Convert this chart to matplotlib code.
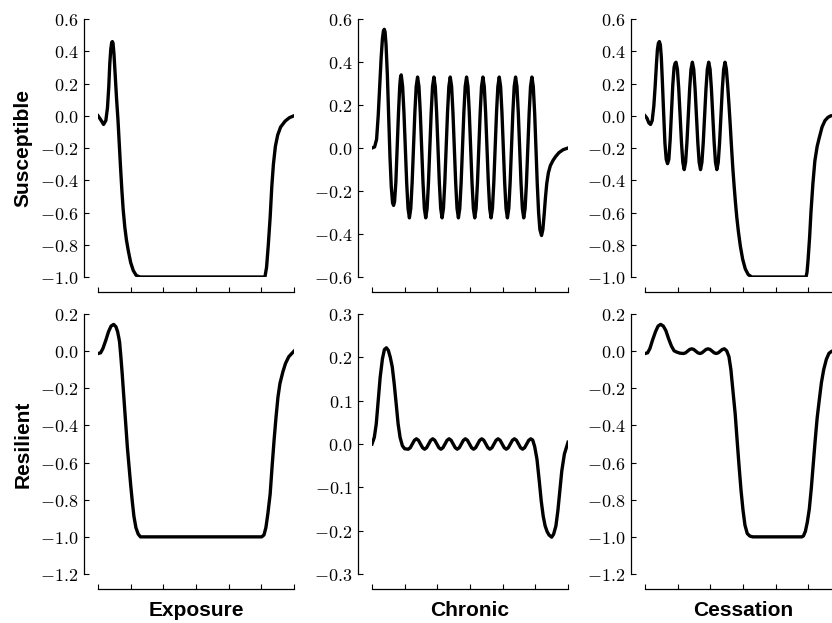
import matplotlib.pyplot as plt
from matplotlib.ticker import FuncFormatter

plt.rcParams['mathtext.fontset'] = 'cm'

W, H = 832, 623

# ---- data (x in tick units 0..6) ----
# susceptible / exposure
s_exp_x = [0, 0.10, 0.17, 0.24, 0.29, 0.33, 0.36, 0.39, 0.42, 0.44, 0.46, 0.49, 0.53, 0.57, 0.61,
           0.65, 0.69, 0.73, 0.77, 0.82, 0.87, 0.93, 1.00, 1.08, 1.17, 1.28, 5.11, 5.16, 5.21, 5.27,
           5.32, 5.37, 5.43, 5.50, 5.59, 5.73, 5.86, 6.0]
s_exp_y = [0, -0.03, -0.054, -0.03, 0.05, 0.18, 0.32, 0.41, 0.455, 0.46, 0.45, 0.38, 0.24, 0.10,
           -0.02, -0.17, -0.32, -0.46, -0.58, -0.69, -0.77, -0.84, -0.91, -0.96, -0.99, -1.0, -1.0,
           -0.94, -0.81, -0.63, -0.44, -0.30, -0.19, -0.12, -0.07, -0.033, -0.012, 0.0]

# susceptible / chronic
s_chr_x = [0, 0.08, 0.14, 0.19, 0.24, 0.28, 0.32, 0.35, 0.376, 0.40, 0.43, 0.47, 0.51, 0.55, 0.59,
           0.63, 0.66, 0.69, 0.73, 0.77, 0.81, 0.85, 0.87, 0.895,
           0.937, 0.978, 1.020, 1.062, 1.103, 1.145, 1.187, 1.228, 1.270, 1.312, 1.353, 1.395,
           1.437, 1.478, 1.520, 1.562, 1.603, 1.645, 1.687, 1.728, 1.770, 1.812, 1.853, 1.895,
           1.937, 1.978, 2.020, 2.062, 2.103, 2.145, 2.187, 2.228, 2.270, 2.312, 2.353, 2.395,
           2.437, 2.478, 2.520, 2.562, 2.603, 2.645, 2.687, 2.728, 2.770, 2.812, 2.853, 2.895,
           2.937, 2.978, 3.020, 3.062, 3.103, 3.145, 3.187, 3.228, 3.270, 3.312, 3.353, 3.395,
           3.437, 3.478, 3.520, 3.562, 3.603, 3.645, 3.687, 3.728, 3.770, 3.812, 3.853, 3.895,
           3.937, 3.978, 4.020, 4.062, 4.103, 4.145, 4.187, 4.228, 4.270, 4.312, 4.353, 4.395,
           4.437, 4.478, 4.520, 4.562, 4.603, 4.645, 4.687, 4.728, 4.770, 4.812, 4.853, 4.895,
           4.937, 4.98, 5.02, 5.06, 5.10, 5.14, 5.19, 5.23, 5.27, 5.31, 5.35, 5.40, 5.46, 5.54,
           5.62, 5.72, 5.85, 6.0]
s_chr_y = [0, 0.005, 0.04, 0.15, 0.30, 0.42, 0.51, 0.545, 0.552, 0.54, 0.48, 0.34, 0.15, -0.04,
           -0.18, -0.255, -0.267, -0.25, -0.16, 0.0, 0.16, 0.29, 0.325, 0.34,
           0.286, 0.165, 0.0, -0.163, -0.281, -0.325, -0.281, -0.163, 0.0, 0.165, 0.286, 0.33,
           0.286, 0.165, 0.0, -0.163, -0.281, -0.325, -0.281, -0.163, 0.0, 0.165, 0.286, 0.33,
           0.286, 0.165, 0.0, -0.163, -0.281, -0.325, -0.281, -0.163, 0.0, 0.165, 0.286, 0.33,
           0.286, 0.165, 0.0, -0.163, -0.281, -0.325, -0.281, -0.163, 0.0, 0.165, 0.286, 0.33,
           0.286, 0.165, 0.0, -0.163, -0.281, -0.325, -0.281, -0.163, 0.0, 0.165, 0.286, 0.33,
           0.286, 0.165, 0.0, -0.163, -0.281, -0.325, -0.281, -0.163, 0.0, 0.165, 0.286, 0.33,
           0.286, 0.165, 0.0, -0.163, -0.281, -0.325, -0.281, -0.163, 0.0, 0.165, 0.286, 0.33,
           0.286, 0.165, 0.0, -0.163, -0.281, -0.325, -0.281, -0.163, 0.0, 0.165, 0.286, 0.33,
           0.286, 0.16, 0.0, -0.17, -0.30, -0.38, -0.407, -0.38, -0.31, -0.23, -0.165, -0.115,
           -0.082, -0.058, -0.04, -0.022, -0.008, 0.0]

# susceptible / cessation
s_ces_x = [0, 0.06, 0.12, 0.17, 0.22, 0.27, 0.31, 0.35, 0.38, 0.41, 0.44, 0.47, 0.50, 0.53, 0.57,
           0.61, 0.65, 0.69, 0.73, 0.77, 0.81, 0.85, 0.89, 0.92, 0.95,
           0.992, 1.033, 1.075, 1.117, 1.158, 1.20, 1.242, 1.283, 1.325, 1.367, 1.408, 1.45,
           1.492, 1.533, 1.575, 1.617, 1.658, 1.70, 1.742, 1.783, 1.825, 1.867, 1.908, 1.95,
           1.992, 2.033, 2.075, 2.117, 2.158, 2.20, 2.242, 2.283, 2.325, 2.367, 2.408, 2.45,
           2.49, 2.53, 2.57, 2.61, 2.65, 2.69, 2.73, 2.77, 2.81, 2.86, 2.92, 2.99, 3.07, 3.16, 3.27,
           4.93, 4.96, 4.99, 5.04, 5.08, 5.14, 5.20, 5.27, 5.33, 5.42, 5.51, 5.60, 5.69, 6.0]
s_ces_y = [0, -0.015, -0.045, -0.054, -0.03, 0.06, 0.18, 0.32, 0.41, 0.45, 0.46, 0.44, 0.36, 0.22,
           0.02, -0.17, -0.27, -0.297, -0.27, -0.15, 0.02, 0.19, 0.30, 0.325, 0.332,
           0.288, 0.167, 0.0, -0.167, -0.289, -0.334, -0.289, -0.167, 0.0, 0.167, 0.288, 0.332,
           0.288, 0.167, 0.0, -0.167, -0.289, -0.334, -0.289, -0.167, 0.0, 0.167, 0.288, 0.332,
           0.288, 0.167, 0.0, -0.167, -0.289, -0.334, -0.289, -0.167, 0.0, 0.167, 0.288, 0.332,
           0.29, 0.19, 0.07, -0.06, -0.2, -0.33, -0.44, -0.54, -0.63, -0.72, -0.81, -0.89, -0.95,
           -0.985, -1.0,
           -1.0, -0.97, -0.9, -0.75, -0.6, -0.42, -0.28, -0.19, -0.14, -0.07, -0.03, -0.01, 0.0, 0.0]

# resilient / exposure
r_exp_x = [0, 0.08, 0.15, 0.24, 0.32, 0.40, 0.48, 0.55, 0.60, 0.64, 0.66, 0.70, 0.74, 0.78, 0.82,
           0.86, 0.90, 0.95, 1.00, 1.05, 1.10, 1.16, 1.23, 1.30, 5.01, 5.08, 5.14, 5.20, 5.27, 5.33,
           5.39, 5.45, 5.51, 5.57, 5.66, 5.74, 5.84, 5.93, 6.0]
r_exp_y = [-0.013, -0.009, 0.014, 0.059, 0.104, 0.135, 0.144, 0.131, 0.105, 0.07, 0.05, -0.03, -0.12,
           -0.22, -0.32, -0.42, -0.52, -0.62, -0.72, -0.81, -0.89, -0.95, -0.985, -1.0, -1.0, -0.99,
           -0.95, -0.875, -0.77, -0.62, -0.48, -0.355, -0.246, -0.174, -0.111, -0.066, -0.03, -0.013, 0.0]

# resilient / chronic
r_chr_x = [0, 0.07, 0.13, 0.19, 0.25, 0.32, 0.38, 0.44, 0.50, 0.56, 0.62, 0.68, 0.74, 0.80, 0.86,
           0.93, 1.0, 1.11,
           1.1725, 1.235, 1.2975, 1.36, 1.4225, 1.485, 1.5475, 1.61,
           1.6725, 1.735, 1.7975, 1.86, 1.9225, 1.985, 2.0475, 2.11,
           2.1725, 2.235, 2.2975, 2.36, 2.4225, 2.485, 2.5475, 2.61,
           2.6725, 2.735, 2.7975, 2.86, 2.9225, 2.985, 3.0475, 3.11,
           3.1725, 3.235, 3.2975, 3.36, 3.4225, 3.485, 3.5475, 3.61,
           3.6725, 3.735, 3.7975, 3.86, 3.9225, 3.985, 4.0475, 4.11,
           4.1725, 4.235, 4.2975, 4.36, 4.4225, 4.485, 4.5475, 4.61,
           4.6725, 4.735, 4.7975, 4.86,
           4.92, 4.98, 5.05, 5.12, 5.18, 5.24, 5.30, 5.36, 5.42, 5.50, 5.56, 5.63, 5.69, 5.75, 5.81,
           5.89, 6.0]
r_chr_y = [0.0, 0.015, 0.046, 0.10, 0.154, 0.197, 0.218, 0.222, 0.216, 0.20, 0.178, 0.139, 0.093,
           0.046, 0.015, -0.004, -0.011, -0.012,
           -0.0085, 0.0, 0.0085, 0.012, 0.0085, 0.0, -0.0085, -0.012,
           -0.0085, 0.0, 0.0085, 0.012, 0.0085, 0.0, -0.0085, -0.012,
           -0.0085, 0.0, 0.0085, 0.012, 0.0085, 0.0, -0.0085, -0.012,
           -0.0085, 0.0, 0.0085, 0.012, 0.0085, 0.0, -0.0085, -0.012,
           -0.0085, 0.0, 0.0085, 0.012, 0.0085, 0.0, -0.0085, -0.012,
           -0.0085, 0.0, 0.0085, 0.012, 0.0085, 0.0, -0.0085, -0.012,
           -0.0085, 0.0, 0.0085, 0.012, 0.0085, 0.0, -0.0085, -0.012,
           -0.0085, 0.0, 0.0085, 0.012,
           0.009, -0.006, -0.035, -0.085, -0.131, -0.166, -0.189, -0.202, -0.21, -0.215, -0.208,
           -0.189, -0.154, -0.108, -0.062, -0.023, 0.004]

# resilient / cessation
r_ces_x = [0, 0.08, 0.15, 0.23, 0.32, 0.40, 0.48, 0.56, 0.64, 0.72, 0.81, 0.89, 0.97, 1.07, 1.18,
           1.2425, 1.305, 1.3675, 1.43, 1.4925, 1.555, 1.6175, 1.68,
           1.7425, 1.805, 1.8675, 1.93, 1.9925, 2.055, 2.1175, 2.18,
           2.2425, 2.305, 2.3675, 2.43,
           2.50, 2.57, 2.63, 2.69, 2.76, 2.82, 2.88, 2.94, 3.00, 3.06, 3.13, 3.21, 3.30, 4.80,
           4.85, 4.91, 4.97, 5.03, 5.09, 5.15, 5.21, 5.27, 5.33, 5.40, 5.47, 5.55, 5.63, 5.72, 6.0]
r_ces_y = [-0.013, -0.009, 0.014, 0.059, 0.104, 0.135, 0.144, 0.135, 0.11, 0.068, 0.027, 0.002,
           -0.005, -0.011, -0.0126,
           -0.009, 0.0, 0.009, 0.0126, 0.009, 0.0, -0.009, -0.0126,
           -0.009, 0.0, 0.009, 0.0126, 0.009, 0.0, -0.009, -0.0126,
           -0.009, 0.0, 0.009, 0.0126,
           0.002, -0.03, -0.10, -0.21, -0.336, -0.48, -0.62, -0.75, -0.856, -0.937, -0.982, -0.996,
           -1.0, -1.0, -0.995, -0.97, -0.92, -0.85, -0.74, -0.61, -0.48, -0.36, -0.27, -0.17, -0.10,
           -0.045, -0.012, 0.0, 0.0]

yticks_s = [-1.0, -0.8, -0.6, -0.4, -0.2, 0.0, 0.2, 0.4, 0.6]
yticks_s_chr = [-0.6, -0.4, -0.2, 0.0, 0.2, 0.4, 0.6]
yticks_r = [-1.2, -1.0, -0.8, -0.6, -0.4, -0.2, 0.0, 0.2]
yticks_r_chr = [-0.3, -0.2, -0.1, 0.0, 0.1, 0.2, 0.3]
xticks = [0, 1, 2, 3, 4, 5, 6]

row_names = ['Susceptible', 'Resilient']
col_names = ['Exposure', 'Chronic', 'Cessation']

panels = [
    [(s_exp_x, s_exp_y, yticks_s), (s_chr_x, s_chr_y, yticks_s_chr), (s_ces_x, s_ces_y, yticks_s)],
    [(r_exp_x, r_exp_y, yticks_r), (r_chr_x, r_chr_y, yticks_r_chr), (r_ces_x, r_ces_y, yticks_r)],
]

fig = plt.figure(figsize=(W / 100, H / 100), dpi=100)

# pixel layout of the data areas
col_left = [98, 372, 645]
col_w = 196
rows_px = [(19, 277), (314, 574)]

fmt = FuncFormatter(lambda v, p: r'$%.1f$' % v)

for r, (top, bot) in enumerate(rows_px):
    for c, left in enumerate(col_left):
        x, y, yt = panels[r][c]
        ax = fig.add_axes([left / W, (H - bot) / H, col_w / W, (bot - top) / H])
        ax.plot(x, y, color='black', lw=2.4, solid_joinstyle='round')
        ax.set_xlim(0, 6)
        ax.set_ylim(yt[0], yt[-1])
        ax.set_xticks(xticks)
        ax.set_xticklabels([])
        ax.set_yticks(yt)
        ax.yaxis.set_major_formatter(fmt)
        for s in ['top', 'right']:
            ax.spines[s].set_visible(False)
        ax.spines['left'].set_position(('outward', 10))
        ax.spines['bottom'].set_position(('outward', 11))
        for s in ['left', 'bottom']:
            ax.spines[s].set_linewidth(0.9)
        ax.tick_params(direction='in', length=3.5, width=0.8, labelsize=13, pad=4)

for r, (top, bot) in enumerate(rows_px):
    fig.text(23 / W, 1 - (top + bot) / 2 / H, row_names[r], rotation=90, ha='center', va='center',
             fontsize=15, fontweight='bold', family='Liberation Sans')

for c, left in enumerate(col_left):
    fig.text((left + col_w / 2) / W, (H - 616) / H, col_names[c], ha='center', va='baseline',
             fontsize=15, fontweight='bold', family='Liberation Sans')

plt.savefig('out.png', dpi=100)
